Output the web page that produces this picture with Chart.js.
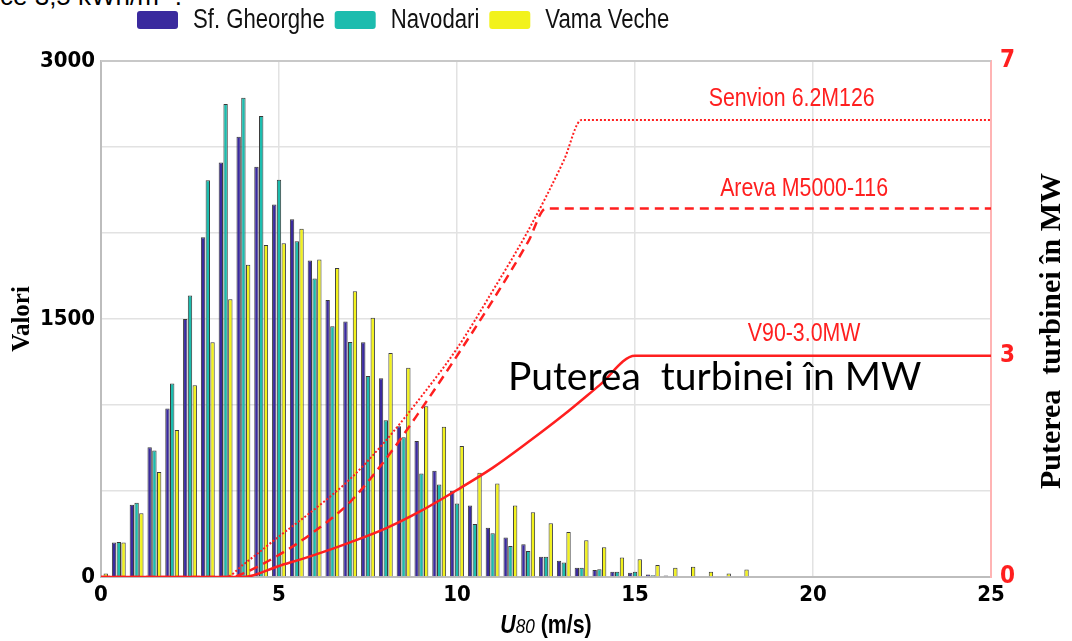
<!DOCTYPE html>
<html>
<head>
<meta charset="utf-8">
<script src="https://cdn.jsdelivr.net/npm/chart.js@4.4.0/dist/chart.umd.min.js"></script>
<style>
    html, body { margin: 0; padding: 0; background: #fff; }
    #wrap { position: relative; width: 1072px; height: 641px; overflow: hidden; }
    #topText { position: absolute; left: 0; top: -19px; font: 26px 'Liberation Sans', Arial, sans-serif; line-height: 30px; color: #000; white-space: nowrap; }
    canvas { position: absolute; left: 0; top: 0; }
</style>
</head>
<body>
<div id="wrap">
    <div id="topText">ce 3,5 kWh/m² .</div>
    <canvas id="chart" width="1072" height="641"></canvas>
</div>
<script>
// Wind speed bins (m/s)
const speeds = [0, 0.5, 1, 1.5, 2, 2.5, 3, 3.5, 4, 4.5, 5, 5.5, 6, 6.5, 7, 7.5, 8, 8.5, 9, 9.5,
    10, 10.5, 11, 11.5, 12, 12.5, 13, 13.5, 14, 14.5, 15, 15.5, 16, 16.5, 17, 17.5, 18];

const sfGheorghe = [5, 200, 420, 755, 980, 1500, 1975, 2410, 2560, 2385, 2165, 2080, 1840, 1610, 1485, 1365, 1155, 877, 790, 618,
    502, 415, 287, 229, 190, 118, 94, 54, 40, 30, 25, 15, 8, 4, 0, 0, 0];
const navodari = [5, 203, 432, 735, 1125, 1637, 2307, 2750, 2787, 2680, 2310, 1952, 1735, 1458, 1367, 1168, 912, 812, 602, 538,
    428, 308, 254, 180, 151, 118, 85, 54, 45, 31, 30, 10, 5, 0, 0, 0, 0];
const vamaVeche = [20, 200, 370, 610, 855, 1115, 1365, 1615, 1815, 1930, 1940, 2025, 1846, 1797, 1662, 1507, 1303, 1216, 993, 873,
    761, 606, 544, 416, 376, 312, 262, 214, 173, 113, 103, 70, 54, 59, 30, 20, 44];

// Turbine power curves (MW)
const senvionSpeed = [0, 3.5, 4, 5, 6, 7, 8, 9, 10, 11, 12, 13, 13.5, 25];
const senvionPower = [0, 0, 0.17, 0.55, 0.92, 1.33, 1.85, 2.45, 3.1, 3.88, 4.7, 5.65, 6.2, 6.2];
const arevaSpeed = [0, 3.7, 4, 5, 6, 7, 8, 9, 10, 11, 12, 12.5, 25];
const arevaPower = [0, 0, 0.05, 0.3, 0.62, 1.02, 1.6, 2.28, 3.0, 3.75, 4.55, 5.0, 5.0];
const v90Speed = [0, 4, 5, 6, 7, 8, 9, 10, 11, 12, 13, 14, 15, 25];
const v90Power = [0, 0, 0.15, 0.3, 0.47, 0.66, 0.9, 1.18, 1.48, 1.83, 2.2, 2.6, 3.0, 3.0];

// Tick labels
const yLabels = [0, 1500, 3000];
const y2Labels = [0, 3, 7];

const SANS = "'Liberation Sans', Arial, sans-serif";
const COND = "'DejaVu Sans Condensed', 'Liberation Sans', sans-serif";
const SERIF = "'Liberation Serif', 'Times New Roman', serif";
const SQUEEZE = 0.82;

function pairs(xs, ys) {
    return xs.map((v, i) => ({ x: v, y: ys[i] }));
}

function barSet(label, values, color) {
    return {
        type: 'bar',
        label: label,
        data: pairs(speeds, values),
        backgroundColor: color,
        borderColor: '#3a3a3a',
        borderWidth: 1,
        categoryPercentage: 0.8,
        barPercentage: 0.92,
        yAxisID: 'y',
        order: 1
    };
}

function curveSet(label, xs, ys, dash, width) {
    return {
        type: 'line',
        label: label,
        data: pairs(xs, ys),
        borderColor: '#ff1f1f',
        borderWidth: width,
        borderDash: dash,
        pointRadius: 0,
        cubicInterpolationMode: 'monotone',
        fill: false,
        yAxisID: 'y2',
        order: 0
    };
}

// narrow-looking text: Arial metrics squeezed horizontally
function narrowWidth(ctx, text, font) {
    ctx.font = font;
    return ctx.measureText(text).width * SQUEEZE;
}

function narrowText(ctx, text, x, y, font, align) {
    const w = narrowWidth(ctx, text, font);
    let left = x;
    if (align === 'center') left = x - w / 2;
    if (align === 'right') left = x - w;
    ctx.save();
    ctx.translate(left, y);
    ctx.scale(SQUEEZE, 1);
    ctx.textAlign = 'left';
    ctx.fillText(text, 0, 0);
    ctx.restore();
    return w;
}

// Legend, curve labels, frame and titles
const extras = {
    id: 'extras',
    afterDraw(chart) {
        const ctx = chart.ctx;
        const a = chart.chartArea;
        const x = chart.scales.x;
        const y2 = chart.scales.y2;
        ctx.save();

        // top frame line
        ctx.strokeStyle = '#c8c8c8';
        ctx.lineWidth = 2;
        ctx.beginPath();
        ctx.moveTo(a.left, a.top);
        ctx.lineTo(a.right, a.top);
        ctx.stroke();

        // legend
        let lx = 137;
        ctx.textBaseline = 'middle';
        chart.data.datasets.filter(d => d.type === 'bar').forEach(d => {
            ctx.fillStyle = d.backgroundColor;
            ctx.beginPath();
            ctx.roundRect(lx, 11, 41, 18, 3);
            ctx.fill();
            ctx.fillStyle = '#111';
            const w = narrowText(ctx, d.label, lx + 56, 21, '27px ' + SANS, 'left');
            lx += 56 + w + 10;
        });

        // curve names
        ctx.fillStyle = '#ff1f1f';
        const lf = '26px ' + SANS;
        narrowText(ctx, 'Senvion 6.2M126', x.getPixelForValue(19.4), y2.getPixelForValue(6.2) - 21, lf, 'center');
        narrowText(ctx, 'Areva M5000-116', x.getPixelForValue(19.75), y2.getPixelForValue(5.0) - 20, lf, 'center');
        narrowText(ctx, 'V90-3.0MW', x.getPixelForValue(19.75), y2.getPixelForValue(3.0) - 22, lf, 'center');

        // big caption inside the plot
        ctx.fillStyle = '#000';
        ctx.font = "39px Lato, 'Open Sans', sans-serif";
        ctx.textAlign = 'left';
        ctx.textBaseline = 'alphabetic';
        ctx.fillText('Puterea  turbinei în MW', 508, 390);

        // right axis title
        ctx.save();
        ctx.translate(1052, (a.top + a.bottom) / 2 + 12);
        ctx.rotate(-Math.PI / 2);
        ctx.font = 'bold 30px ' + SERIF;
        ctx.textAlign = 'center';
        ctx.textBaseline = 'middle';
        ctx.fillText('Puterea  turbinei în MW', 0, 0);
        ctx.restore();

        // x axis title: U80 (m/s)
        const parts = [
            { t: 'U', f: 'italic bold 26px ' + SANS },
            { t: '80', f: 'italic 21px ' + SANS },
            { t: ' (m/s)', f: 'bold 26px ' + SANS }
        ];
        let total = 0;
        parts.forEach(p => { p.w = narrowWidth(ctx, p.t, p.f); total += p.w; });
        let tx = (a.left + a.right) / 2 - total / 2;
        ctx.textBaseline = 'alphabetic';
        parts.forEach(p => { narrowText(ctx, p.t, tx, 633, p.f, 'left'); tx += p.w; });

        ctx.restore();
    }
};

const ctx = document.getElementById('chart').getContext('2d');
new Chart(ctx, {
    type: 'bar',
    data: {
        datasets: [
            curveSet('Senvion 6.2M126', senvionSpeed, senvionPower, [2, 2], 2),
            curveSet('Areva M5000-116', arevaSpeed, arevaPower, [9, 6], 2.5),
            curveSet('V90-3.0MW', v90Speed, v90Power, [], 2.5),
            barSet('Sf. Gheorghe', sfGheorghe, '#3a2a9e'),
            barSet('Navodari', navodari, '#1cbcae'),
            barSet('Vama Veche', vamaVeche, '#f2f21c')
        ]
    },
    options: {
        responsive: false,
        animation: false,
        layout: { padding: { top: 61, left: 0, right: 0, bottom: 0 } },
        plugins: {
            legend: { display: false },
            tooltip: { enabled: false }
        },
        scales: {
            x: {
                type: 'linear',
                min: 0,
                max: 25,
                offset: false,
                ticks: {
                    stepSize: 5,
                    color: '#000',
                    padding: 5,
                    font: { family: COND, size: 22, weight: 'bold' }
                },
                grid: { offset: false, color: '#e2e2e2', lineWidth: 1.5, drawTicks: false },
                border: { color: '#bdbdbd', width: 2 },
                afterFit(s) { s.height = 64; }
            },
            y: {
                position: 'left',
                min: 0,
                max: 3000,
                ticks: {
                    stepSize: 500,
                    autoSkip: false,
                    color: '#000',
                    padding: 6,
                    font: { family: COND, size: 22, weight: 'bold' },
                    callback: v => yLabels.includes(v) ? String(v) : ''
                },
                grid: { color: '#e2e2e2', lineWidth: 1.5, drawTicks: false },
                border: { color: '#bdbdbd', width: 2 },
                title: {
                    display: true,
                    text: 'Valori',
                    color: '#000',
                    font: { family: SERIF, size: 25, weight: 'bold' },
                    padding: { top: 8, bottom: 0 }
                },
                afterFit(s) { s.width = 101; }
            },
            y2: {
                position: 'right',
                min: 0,
                max: 7,
                afterBuildTicks(s) { s.ticks = y2Labels.map(v => ({ value: v })); },
                ticks: {
                    color: '#ff1f1f',
                    padding: 9,
                    font: { family: COND, size: 24, weight: 'bold' }
                },
                grid: { drawOnChartArea: false, drawTicks: false },
                border: { color: '#ffb4b4', width: 2 },
                afterFit(s) { s.width = 81; }
            }
        }
    },
    plugins: [extras]
});
</script>
</body>
</html>
